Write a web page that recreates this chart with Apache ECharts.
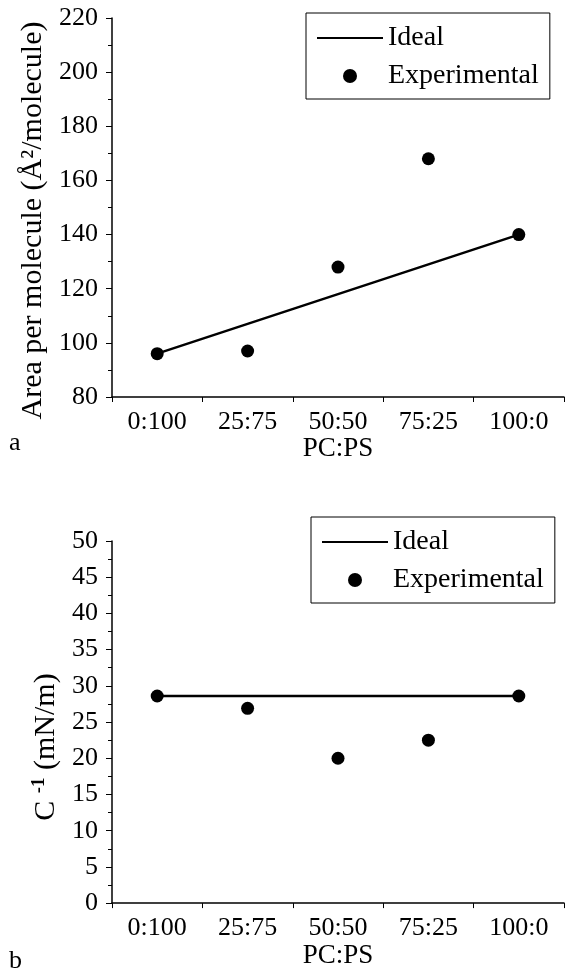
<!DOCTYPE html>
<html lang="en">
<head>
  <meta charset="UTF-8" />
  <title>PC:PS monolayers</title>
  <script src="https://cdn.jsdelivr.net/npm/echarts@6/dist/echarts.min.js"></script>
  <style>
    html, body { margin: 0; padding: 0; background: #fff; }
    #chart { width: 565px; height: 970px; }
  </style>
</head>
<body>
  <div id="chart"></div>
  <script>
    // data
    const ratios = ['0:100', '25:75', '50:50', '75:25', '100:0'];
    const idealArea = [96, 107, 118, 129, 140];
    const expArea = [96, 97, 128, 168, 140];
    const idealC = [28.6, 28.6, 28.6, 28.6, 28.6];
    const expC = [28.6, 26.9, 20.0, 22.5, 28.6];

    const FONT = "'Liberation Serif', 'Times New Roman', serif";
    const black = '#000';

    function xAxisFor(gridIndex) {
      return {
        type: 'category',
        gridIndex: gridIndex,
        data: ratios,
        boundaryGap: true,
        name: 'PC:PS',
        nameLocation: 'middle',
        nameGap: 35,
        nameTextStyle: { color: black, fontFamily: FONT, fontSize: 27 },
        axisLine: { lineStyle: { color: black, width: 1.5 } },
        axisTick: { show: true, length: 5, lineStyle: { color: black, width: 1 } },
        axisLabel: { color: black, fontFamily: FONT, fontSize: 26, margin: 12 },
        splitLine: { show: false }
      };
    }

    function yAxisFor(gridIndex, min, max, interval, name, gap, shift) {
      return {
        type: 'value',
        gridIndex: gridIndex,
        min: min,
        max: max,
        interval: interval,
        name: name,
        nameLocation: 'middle',
        nameGap: gap,
        nameTextStyle: {
          color: black, fontFamily: FONT, fontSize: 30,
          padding: [0, shift, 0, 0],
          rich: {
            sup: { fontFamily: FONT, fontSize: 19, fontWeight: 'bold', verticalAlign: 'top', padding: [0, 0, 14, 0] }
          }
        },
        axisLine: { show: true, lineStyle: { color: black, width: 1.5 } },
        axisTick: { show: true, length: 6, lineStyle: { color: black, width: 1 } },
        minorTick: { show: true, splitNumber: 2, length: 4, lineStyle: { color: black, width: 1 } },
        axisLabel: { color: black, fontFamily: FONT, fontSize: 26, margin: 14 },
        splitLine: { show: false }
      };
    }

    function legendFor(top, left) {
      return {
        orient: 'vertical',
        left: left,
        top: top,
        padding: [10, 11, 8, 10],
        borderColor: black,
        borderWidth: 1,
        itemWidth: 66,
        itemHeight: 14,
        itemGap: 8,
        textStyle: { color: black, fontFamily: FONT, fontSize: 28, lineHeight: 30 },
        data: [
          { name: 'Ideal', itemStyle: { opacity: 0 } },
          { name: 'Experimental' }
        ],
        selectedMode: false
      };
    }

    const chart = echarts.init(document.getElementById('chart'), null, { renderer: 'canvas' });

    chart.setOption({
      backgroundColor: '#fff',
      animation: false,
      textStyle: { fontFamily: FONT },
      grid: [
        { left: 112, top: 18, width: 452, height: 379 },
        { left: 112, top: 541, width: 452, height: 368 }
      ],
      xAxis: [xAxisFor(0), xAxisFor(1)],
      yAxis: [
        yAxisFor(0, 80, 220, 20, 'Area per molecule (Å²/molecule)', 63, 26),
        yAxisFor(1, 0, 50, 5, 'C {sup|-1} (mN/m)', 49, 50)
      ],
      legend: [legendFor(13, 306), legendFor(517, 311)],
      graphic: [
        { type: 'text', left: 9, top: 430, style: { text: 'a', font: "26px 'Liberation Serif'", fill: black } },
        { type: 'text', left: 9, top: 948, style: { text: 'b', font: "26px 'Liberation Serif'", fill: black } }
      ],
      series: [
        {
          name: 'Ideal', type: 'line', xAxisIndex: 0, yAxisIndex: 0,
          data: idealArea, symbol: 'none',
          lineStyle: { color: black, width: 2.5 }, itemStyle: { color: black }
        },
        {
          name: 'Experimental', type: 'scatter', xAxisIndex: 0, yAxisIndex: 0,
          data: expArea, symbol: 'circle', symbolSize: 13,
          itemStyle: { color: black, opacity: 1 }, z: 3
        },
        {
          name: 'Ideal', type: 'line', xAxisIndex: 1, yAxisIndex: 1,
          data: idealC, symbol: 'none',
          lineStyle: { color: black, width: 2.5 }, itemStyle: { color: black }
        },
        {
          name: 'Experimental', type: 'scatter', xAxisIndex: 1, yAxisIndex: 1,
          data: expC, symbol: 'circle', symbolSize: 13,
          itemStyle: { color: black, opacity: 1 }, z: 3
        }
      ]
    });
  </script>
</body>
</html>
